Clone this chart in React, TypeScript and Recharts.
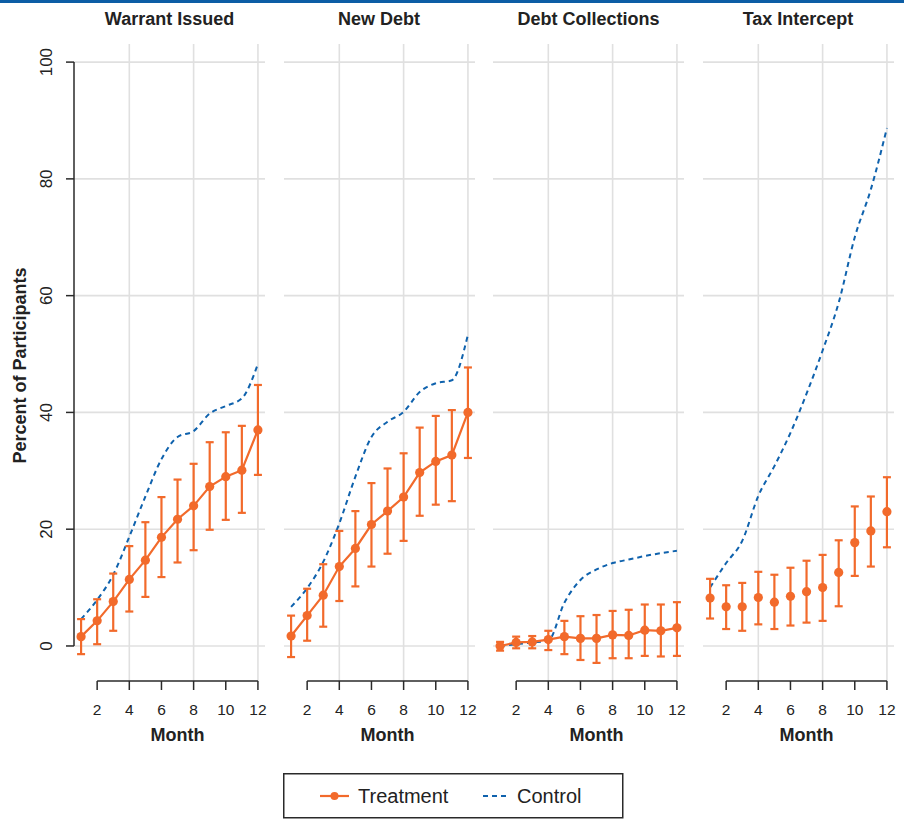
import React from 'react';
import {
  ComposedChart,
  Line,
  XAxis,
  YAxis,
  CartesianGrid,
  ErrorBar,
  ReferenceLine,
} from 'recharts';

// ---------- data ----------
const months = [1, 2, 3, 4, 5, 6, 7, 8, 9, 10, 11, 12];
const xTicks = [2, 4, 6, 8, 10, 12];
const yTicks = [0, 20, 40, 60, 80, 100];
const gridX = [4, 8, 12];
const panelTitles = ['Warrant Issued', 'New Debt', 'Debt Collections', 'Tax Intercept'];
const seriesNames = ['Treatment', 'Control'];

const warrantTreat = [1.6, 4.3, 7.6, 11.4, 14.7, 18.6, 21.7, 24.0, 27.3, 29.0, 30.1, 37.0];
const warrantLow = [-1.4, 0.3, 2.6, 5.9, 8.4, 11.8, 14.3, 16.4, 19.9, 21.6, 22.8, 29.3];
const warrantHigh = [4.6, 8.0, 12.4, 17.1, 21.2, 25.5, 28.5, 31.2, 34.9, 36.6, 37.7, 44.7];
const warrantControl = [4.6, 7.9, 12.2, 18.7, 25.6, 32.0, 35.8, 36.8, 39.8, 41.1, 42.4, 48.3];

const newDebtTreat = [1.7, 5.2, 8.7, 13.6, 16.7, 20.8, 23.1, 25.5, 29.7, 31.6, 32.7, 40.0];
const newDebtLow = [-1.9, 0.9, 3.3, 7.7, 10.2, 13.6, 15.8, 18.0, 22.3, 24.2, 24.8, 32.2];
const newDebtHigh = [5.2, 9.8, 14.0, 19.7, 23.1, 27.9, 30.4, 33.0, 37.4, 39.4, 40.4, 47.7];
const newDebtControl = [6.7, 9.9, 14.4, 21.0, 29.0, 35.8, 38.4, 40.1, 43.5, 45.0, 45.5, 53.3];

const collTreat = [0.0, 0.6, 0.7, 1.1, 1.6, 1.3, 1.3, 1.9, 1.8, 2.7, 2.6, 3.1];
const collLow = [-0.8, -0.4, -0.4, -0.7, -1.4, -2.4, -2.9, -2.1, -2.1, -1.7, -1.8, -1.7];
const collHigh = [0.7, 1.6, 1.7, 2.6, 4.3, 5.1, 5.3, 6.0, 6.2, 7.1, 7.1, 7.5];
const collControl = [0.0, 0.3, 0.6, 0.9, 7.4, 11.3, 13.1, 14.2, 14.8, 15.4, 15.9, 16.3];

const taxTreat = [8.2, 6.7, 6.7, 8.3, 7.5, 8.5, 9.3, 10.0, 12.6, 17.7, 19.7, 23.0];
const taxLow = [4.7, 2.9, 2.6, 3.7, 2.9, 3.5, 4.0, 4.3, 6.8, 12.0, 13.6, 16.9];
const taxHigh = [11.5, 10.4, 10.8, 12.7, 12.2, 13.4, 14.6, 15.6, 18.1, 23.9, 25.6, 28.9];
const taxControl = [10.0, 14.2, 18.0, 25.7, 30.8, 36.5, 43.2, 50.6, 58.8, 70.0, 78.2, 88.7];

// ---------- styling / layout ----------
const ORANGE = '#f26a2b';
const BLUE = '#0f62ad';
const GRID = '#e0e0e0';
const AXIS = '#2a2a2a';
const TEXT = '#222222';
const FONT = '"Liberation Sans", Arial, Helvetica, sans-serif';

const X_DOMAIN: [number, number] = [0.56, 12.44];
const Y_DOMAIN: [number, number] = [-6.0, 103.1];
const PLOT_LEFTS = [74, 283.5, 493, 702.5];
const PLOT_W = 191;
const CHART_H = 750;
const Y_AXIS_W = 74;

type Row = { month: number; treat: number; err: [number, number]; control: number };

function buildRows(t: number[], lo: number[], hi: number[], c: number[]): Row[] {
  return months.map((m, i) => ({
    month: m,
    treat: t[i],
    err: [t[i] - lo[i], hi[i] - t[i]],
    control: c[i],
  }));
}

const panels = [
  { rows: buildRows(warrantTreat, warrantLow, warrantHigh, warrantControl), connect: true },
  { rows: buildRows(newDebtTreat, newDebtLow, newDebtHigh, newDebtControl), connect: true },
  { rows: buildRows(collTreat, collLow, collHigh, collControl), connect: true },
  { rows: buildRows(taxTreat, taxLow, taxHigh, taxControl), connect: false },
];

const YTick = (props: any) => {
  const { x, y, payload } = props;
  const bx = x - 14;
  return (
    <text
      x={bx}
      y={y}
      transform={`rotate(-90, ${bx}, ${y})`}
      textAnchor="middle"
      fontSize={17}
      fill={TEXT}
    >
      {payload.value}
    </text>
  );
};

const YLabel = (props: any) => {
  const vb = props.viewBox || { x: 0, y: 0, width: 0, height: 0 };
  const cy = vb.y + vb.height / 2 + 3;
  const bx = 26;
  return (
    <text
      x={bx}
      y={cy}
      transform={`rotate(-90, ${bx}, ${cy})`}
      textAnchor="middle"
      fontSize={18}
      fontWeight="bold"
      fill={TEXT}
    >
      Percent of Participants
    </text>
  );
};

const MonthLabel = (props: any) => {
  const vb = props.viewBox || { x: 0, y: 0, width: 0, height: 0 };
  return (
    <text
      x={vb.x + vb.width / 2}
      y={vb.y + 60}
      textAnchor="middle"
      fontSize={18}
      fontWeight="bold"
      fill={TEXT}
    >
      Month
    </text>
  );
};

function Panel({ idx }: { idx: number }) {
  const { rows, connect } = panels[idx];
  const showY = idx === 0;
  const marginLeft = showY ? 0 : 10;
  const yw = showY ? Y_AXIS_W : 0;
  const chartLeft = PLOT_LEFTS[idx] - marginLeft - yw;
  const width = marginLeft + yw + PLOT_W + 10;
  return (
    <div style={{ position: 'absolute', left: chartLeft, top: 0 }}>
      <ComposedChart
        width={width}
        height={CHART_H}
        data={rows}
        margin={{ top: 44, right: 10, bottom: 9, left: marginLeft }}
      >
        <CartesianGrid
          stroke={GRID}
          strokeWidth={1.6}
          verticalValues={gridX}
          horizontalValues={yTicks}
        />
        <XAxis
          type="number"
          dataKey="month"
          domain={X_DOMAIN}
          allowDataOverflow
          ticks={xTicks}
          interval={0}
          height={60}
          axisLine={false}
          tickLine={{ stroke: AXIS, strokeWidth: 1.5 }}
          tickSize={9}
          tickMargin={14}
          tick={{ fontSize: 15.5, fill: TEXT }}
        />
        <YAxis
          type="number"
          domain={Y_DOMAIN}
          allowDataOverflow
          ticks={yTicks}
          interval={0}
          hide={!showY}
          width={Y_AXIS_W}
          axisLine={false}
          tickLine={{ stroke: AXIS, strokeWidth: 1.5 }}
          tickSize={8}
          tickMargin={0}
          tick={<YTick />}
          label={<YLabel />}
        />
        <ReferenceLine
          segment={[
            { x: xTicks[0], y: Y_DOMAIN[0] },
            { x: xTicks[xTicks.length - 1], y: Y_DOMAIN[0] },
          ]}
          stroke={AXIS}
          strokeWidth={1.5}
          ifOverflow="visible"
          label={<MonthLabel />}
        />
        {showY && (
          <ReferenceLine
            segment={[
              { x: X_DOMAIN[0], y: yTicks[0] },
              { x: X_DOMAIN[0], y: yTicks[yTicks.length - 1] },
            ]}
            stroke={AXIS}
            strokeWidth={1.5}
            ifOverflow="visible"
          />
        )}
        <Line
          dataKey="control"
          type="monotone"
          stroke={BLUE}
          strokeWidth={2}
          strokeDasharray="5 4"
          dot={false}
          isAnimationActive={false}
        />
        <Line
          dataKey="treat"
          type="linear"
          stroke={connect ? ORANGE : 'none'}
          strokeWidth={2.2}
          dot={{ r: 4.6, fill: ORANGE, stroke: ORANGE, strokeWidth: 0 }}
          isAnimationActive={false}
        >
          <ErrorBar dataKey="err" width={4} strokeWidth={2.2} stroke={ORANGE} direction="y" />
        </Line>
      </ComposedChart>
    </div>
  );
}

export default function App() {
  return (
    <div
      style={{
        position: 'absolute',
        left: 0,
        top: 0,
        width: 904,
        height: 823,
        background: '#ffffff',
        fontFamily: FONT,
        overflow: 'hidden',
      }}
    >
      {panels.map((_, i) => (
        <Panel key={i} idx={i} />
      ))}
      <svg
        width={904}
        height={823}
        style={{ position: 'absolute', left: 0, top: 0, pointerEvents: 'none' }}
      >
        <rect x={0} y={0} width={904} height={3} fill="#0c5da5" />
        {panelTitles.map((t, i) => (
          <text
            key={t}
            x={PLOT_LEFTS[i] + PLOT_W / 2}
            y={25}
            textAnchor="middle"
            fontSize={18}
            fontWeight="bold"
            fill={TEXT}
          >
            {t}
          </text>
        ))}
        <g transform="translate(283,773)">
          <rect x={0.75} y={0.75} width={339} height={44} fill="#fff" stroke={AXIS} strokeWidth={1.5} />
          <line x1={37} x2={66} y1={23} y2={23} stroke={ORANGE} strokeWidth={2.2} />
          <circle cx={51.5} cy={23} r={4} fill={ORANGE} />
          <text x={75} y={30} fontSize={20} fill={TEXT}>
            {seriesNames[0]}
          </text>
          <line
            x1={200}
            x2={224}
            y1={23}
            y2={23}
            stroke={BLUE}
            strokeWidth={2}
            strokeDasharray="5 4"
          />
          <text x={234} y={30} fontSize={20} fill={TEXT}>
            {seriesNames[1]}
          </text>
        </g>
      </svg>
    </div>
  );
}
